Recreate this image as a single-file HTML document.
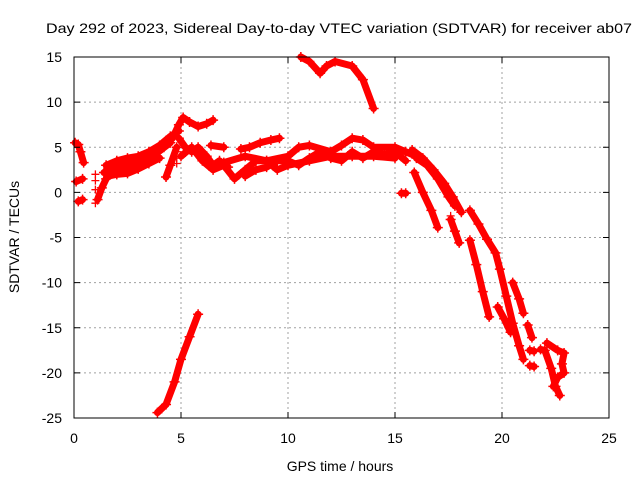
<!DOCTYPE html>
<html><head><meta charset="utf-8"><style>
body{margin:0;background:#fff;}
svg{display:block;font-family:"Liberation Sans",sans-serif;}
</style></head><body>
<svg id="chart" width="640" height="480" viewBox="0 0 640 480">
<rect width="640" height="480" fill="#fff"/>
<text x="339" y="33" text-anchor="middle" font-size="14" textLength="586" lengthAdjust="spacingAndGlyphs">Day 292 of 2023, Sidereal Day-to-day VTEC variation (SDTVAR) for receiver ab07</text>
<g id="grid"></g>
<g id="marks"></g>
<rect x="74" y="57" width="535" height="361" fill="none" stroke="#000" stroke-width="1"/>
<g id="ticks"></g>
<text x="340" y="471" text-anchor="middle" font-size="14">GPS time / hours</text>
<text transform="translate(19,237) rotate(-90)" text-anchor="middle" font-size="14">SDTVAR / TECUs</text>
</svg>
<script>
const xTicks=[0,5,10,15,20,25];
const yTicks=[15,10,5,0,-5,-10,-15,-20,-25];
const tracks=[
 [[0.05,5.5],[0.2,5.3],[0.3,4.5],[0.45,3.3]],
 [[0.1,1.2],[0.4,1.5]],
 [[0.2,-1.0],[0.4,-0.8]],
 [[1.1,-0.8],[1.3,0.5],[1.5,1.5],[1.8,2.3],[2.2,2.6],[2.8,2.8],[3.3,3.3],[3.8,4.2],[4.2,5.0],[4.6,6.0],[4.9,7.5],[5.1,8.3],[5.4,7.8],[5.8,7.3],[6.2,7.6],[6.5,8.0]],
 [[1.5,3.0],[2.0,3.5],[2.5,3.8],[3.0,4.0],[3.5,4.5],[4.0,5.2],[4.5,6.2],[4.9,6.8]],
 [[1.4,2.2],[2.0,3.0],[2.5,3.2],[3.0,3.5],[3.5,3.9],[4.0,4.6],[4.5,5.5]],
 [[1.6,1.8],[2.0,2.0],[2.5,2.1],[3.0,2.6],[3.5,3.2],[4.0,3.8]],
 [[4.3,1.7],[4.5,3.0],[4.8,5.0]],
 [[4.9,6.0],[5.2,5.0],[5.5,4.5],[5.8,5.0],[6.2,4.0],[6.5,3.0],[6.8,3.5],[7.2,2.8]],
 [[6.4,5.2],[7.0,5.0]],
 [[7.8,4.8],[8.2,5.0],[8.7,5.5],[9.2,5.8],[9.6,6.0]],
 [[5.0,4.0],[5.5,5.0],[6.0,3.5],[6.5,2.5],[7.0,3.0],[7.5,1.5],[8.0,2.5],[8.5,3.5],[9.0,3.5],[9.5,2.5],[10.0,3.0],[11.0,3.5],[12.0,4.0],[13.0,4.0],[14.0,4.0],[15.0,3.8]],
 [[7.0,3.3],[8.0,4.0],[9.0,3.5],[10.0,4.0],[10.5,5.0],[11.0,5.2],[12.0,4.5],[12.5,5.2],[13.0,6.0],[13.5,5.8],[14.0,5.0],[15.0,5.0],[15.5,4.5],[16.0,4.0]],
 [[8.0,1.8],[8.5,2.5],[9.0,2.8],[9.5,3.5],[10.0,3.5],[10.5,3.0],[11.0,3.8],[11.5,4.5],[12.0,3.8],[12.5,3.5],[13.0,4.5],[13.5,3.8],[14.0,4.5],[14.5,4.2],[15.0,4.5],[15.5,3.5]],
 [[10.6,15.0],[11.0,14.5],[11.5,13.2],[11.8,14.0],[12.2,14.5],[13.0,14.0],[13.5,12.5],[14.0,9.3]],
 [[3.9,-24.4],[4.3,-23.5],[4.7,-21.0],[5.0,-18.5],[5.4,-16.0],[5.8,-13.5]],
 [[15.3,-0.1],[15.5,-0.1]],
 [[15.8,4.7],[16.3,3.8],[16.8,2.5],[17.3,1.0],[17.7,-0.5],[18.1,-2.2]],
 [[16.0,3.8],[16.5,3.0],[17.0,1.5],[17.5,-0.5],[17.8,-1.5]],
 [[15.9,2.2],[16.3,0.0],[16.7,-2.0],[17.0,-3.9]],
 [[17.6,-3.0],[17.8,-4.3],[18.0,-5.6]],
 [[18.5,-2.0],[18.9,-3.5],[19.3,-5.2],[19.7,-6.7],[19.9,-8.5],[20.2,-11.5],[20.5,-14.5],[20.8,-17.0],[21.0,-18.5]],
 [[18.5,-5.3],[18.8,-8.0],[19.1,-11.0],[19.4,-13.8]],
 [[19.8,-12.7],[20.1,-14.0],[20.4,-15.5]],
 [[20.5,-10.0],[20.8,-11.8],[21.0,-13.4]],
 [[21.2,-14.7],[21.4,-16.1]],
 [[21.3,-17.5],[21.5,-17.6]],
 [[21.3,-19.2],[21.5,-19.3]],
 [[21.8,-17.4],[22.0,-17.5],[22.3,-19.5],[22.5,-21.5],[22.7,-22.5]],
 [[22.1,-16.7],[22.6,-17.5],[22.9,-17.8],[22.8,-19.0],[22.9,-20.0],[22.6,-20.5],[22.4,-21.5]]
];
const crosses=[[1.0,2.0],[1.0,1.3],[1.0,0.3],[1.0,-1.2],[4.8,4.5],[4.8,3.8],[4.8,3.2],[17.6,-3.0],[17.6,-2.6]];
const X0=74,X1=609,Y0=418,Y1=57;
const sx=v=>X0+(v-0)/25*(X1-X0);
const sy=v=>Y0-(v+25)/40*(Y0-Y1);
const NS="http://www.w3.org/2000/svg";
const grid=document.getElementById('grid'),marks=document.getElementById('marks'),ticks=document.getElementById('ticks');
function mk(t,a,p){const e=document.createElementNS(NS,t);for(const k in a)e.setAttribute(k,a[k]);p.appendChild(e);return e;}
xTicks.forEach(v=>{const x=sx(v);
 if(v>0&&v<25){const l=mk('line',{x1:x,x2:x,y1:Y1,y2:Y0,stroke:'#a0a0a0','stroke-dasharray':'2,3'},grid);
 
 }
 mk('line',{x1:x,x2:x,y1:Y0,y2:Y0-6,stroke:'#000'},ticks);
 mk('line',{x1:x,x2:x,y1:Y1,y2:Y1+6,stroke:'#000'},ticks);
 const t=mk('text',{x:x,y:443,'text-anchor':'middle','font-size':14},ticks);t.textContent=v;
 
 });
yTicks.forEach(v=>{const y=sy(v);
 if(v>-25&&v<15){const l=mk('line',{x1:X0,x2:X1,y1:y,y2:y,stroke:'#a0a0a0','stroke-dasharray':'2,3'},grid);
 
 }
 mk('line',{x1:X0,x2:X0+6,y1:y,y2:y,stroke:'#000'},ticks);
 mk('line',{x1:X1,x2:X1-6,y1:y,y2:y,stroke:'#000'},ticks);
 const t=mk('text',{x:62,y:y+5,'text-anchor':'end','font-size':14},ticks);t.textContent=v;
 
 });
tracks.forEach(tr=>{
 const p=mk('polyline',{points:tr.map(d=>sx(d[0])+','+sy(d[1])).join(' '),fill:'none',stroke:'#f00','stroke-width':7,'stroke-linejoin':'round','stroke-linecap':'round'},marks);
 
 
 tr.forEach(d=>{const x=sx(d[0]),y=sy(d[1]);
  const c=mk('path',{d:`M${x-5},${y}H${x+5}M${x},${y-5}V${y+5}`,stroke:'#f00','stroke-width':1.5},marks);
  
  });
});
crosses.forEach(d=>{const x=sx(d[0]),y=sy(d[1]);
 const c=mk('path',{d:`M${x-4},${y}H${x+4}M${x},${y-4}V${y+4}`,stroke:'#f00','stroke-width':1.3},marks);
 
 });
</script>
</body></html>
